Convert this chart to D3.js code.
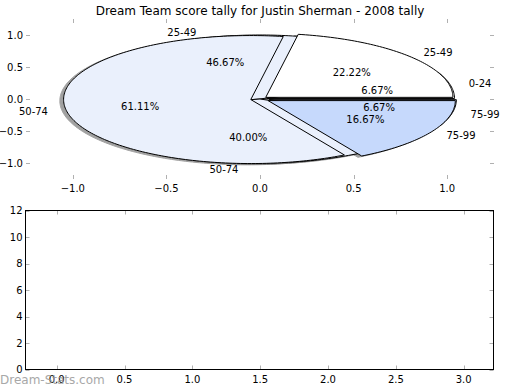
<!DOCTYPE html>
<html>
<head>
<meta charset="utf-8">
<script src="https://cdn.jsdelivr.net/npm/d3@7"></script>
<style>
  body { margin: 0; background: #fff; }
  text { font-family: "DejaVu Sans", sans-serif; }
</style>
</head>
<body>
<svg id="chart" width="520" height="390"></svg>
<script>
// outer pie: 2008 tally counts per score band
const outerLabels = ['0-24', '25-49', '50-74', '75-99'];
const outerCounts = [1, 7, 6, 1];
const outerExplode = [0.04, 0, 0, 0.05];
const outerColors = ['#ffffff', '#eaf0fc', '#eaf0fc', '#c6d9fc'];

// second pie drawn on top
const innerLabels = ['25-49', '50-74', '75-99'];
const innerCounts = [4, 11, 3];
const innerExplode = [0.04, 0.05, 0.05];
const innerColors = ['#ffffff', '#eaf0fc', '#c6d9fc'];

const pieTicks = [-1.0, -0.5, 0.0, 0.5, 1.0];
const barXTicks = [0.0, 0.5, 1.0, 1.5, 2.0, 2.5, 3.0];
const barYTicks = [0, 2, 4, 6, 8, 10, 12];

const svg = d3.select('#chart');
const fmt = d3.format('.1f');

svg.append('text')
  .attr('x', 260).attr('y', 15)
  .attr('text-anchor', 'middle')
  .attr('font-size', 12)
  .text('Dream Team score tally for Justin Sherman - 2008 tally');

// ---- top axes (pie) ----
const x = d3.scaleLinear().domain([-1.25, 1.25]).range([26, 494]);
const y = d3.scaleLinear().domain([-1.25, 1.25]).range([179, 19]);

const line = d3.line().x(d => x(d[0])).y(d => y(d[1]));

function wedgePoints(cx, cy, a0, a1, r) {
  const pts = [[cx, cy]];
  const n = Math.max(2, Math.ceil((a1 - a0) / 0.02));
  for (let i = 0; i <= n; i++) {
    const t = a0 + (a1 - a0) * i / n;
    pts.push([cx + r * Math.cos(t), cy + r * Math.sin(t)]);
  }
  pts.push([cx, cy]);
  return pts;
}

const pie = d3.pie().sort(null).startAngle(0).endAngle(2 * Math.PI);

function buildPie(labels, counts, explode, colors) {
  const total = d3.sum(counts);
  return pie(counts).map((a, i) => {
    const mid = (a.startAngle + a.endAngle) / 2;
    const cx = explode[i] * Math.cos(mid);
    const cy = explode[i] * Math.sin(mid);
    return {
      label: labels[i], pct: (100 * counts[i] / total).toFixed(2) + '%',
      a0: a.startAngle, a1: a.endAngle, mid: mid, cx: cx, cy: cy, color: colors[i]
    };
  });
}

const outer = buildPie(outerLabels, outerCounts, outerExplode, outerColors);
const inner = buildPie(innerLabels, innerCounts, innerExplode, innerColors);
const wedges = outer.concat(inner);

// shadows first, under every wedge
svg.append('g').selectAll('path')
  .data(wedges)
  .enter()
  .append('path')
  .attr('d', d => line(wedgePoints(d.cx - 0.02, d.cy - 0.02, d.a0, d.a1, 1)))
  .attr('fill', 'rgb(70,70,70)')
  .attr('stroke', 'rgb(70,70,70)')
  .attr('opacity', 0.5);

svg.append('g').selectAll('path')
  .data(wedges)
  .enter()
  .append('path')
  .attr('d', d => line(wedgePoints(d.cx, d.cy, d.a0, d.a1, 1)))
  .attr('fill', d => d.color)
  .attr('stroke', '#000')
  .attr('stroke-width', 1)
  .attr('stroke-linejoin', 'round');

const labelG = svg.append('g').attr('font-size', 10);
wedges.forEach(d => {
  const lx = d.cx + 1.1 * Math.cos(d.mid);
  const ly = d.cy + 1.1 * Math.sin(d.mid);
  labelG.append('text')
    .attr('x', x(lx)).attr('y', y(ly))
    .attr('dy', '0.35em')
    .attr('text-anchor', lx > 0 ? 'start' : 'end')
    .text(d.label);
  labelG.append('text')
    .attr('x', x(d.cx + 0.6 * Math.cos(d.mid))).attr('y', y(d.cy + 0.6 * Math.sin(d.mid)))
    .attr('dy', '0.35em')
    .attr('text-anchor', 'middle')
    .text(d.pct);
});

// tick marks + labels, drawn inward on all four sides
function ticks(g, xs, ys, xScale, yScale, box, xFmt, yFmt) {
  const tk = g.append('g').attr('stroke', '#b0b0b0').attr('stroke-width', 1);
  xs.forEach(v => {
    const px = Math.round(xScale(v)) + 0.5;
    tk.append('line').attr('x1', px).attr('x2', px).attr('y1', box.bottom).attr('y2', box.bottom - 4);
    tk.append('line').attr('x1', px).attr('x2', px).attr('y1', box.top).attr('y2', box.top + 4);
    g.append('text').attr('x', xScale(v)).attr('y', box.bottom + 13)
      .attr('text-anchor', 'middle').attr('font-size', 10).text(xFmt(v));
  });
  ys.forEach(v => {
    const py = Math.round(yScale(v)) + 0.5;
    tk.append('line').attr('y1', py).attr('y2', py).attr('x1', box.left).attr('x2', box.left + 4);
    tk.append('line').attr('y1', py).attr('y2', py).attr('x1', box.right).attr('x2', box.right - 4);
    g.append('text').attr('x', box.left - 3).attr('y', yScale(v)).attr('dy', '0.35em')
      .attr('text-anchor', 'end').attr('font-size', 10).text(yFmt(v));
  });
}

ticks(svg.append('g'), pieTicks, pieTicks, x, y,
  {left: 26, right: 494, top: 19, bottom: 179}, fmt, fmt);

// ---- bottom axes (empty) ----
const box2 = {left: 25.5, right: 493.5, top: 210.5, bottom: 369.5};
const x2 = d3.scaleLinear().domain([-0.23, 3.22]).range([box2.left, box2.right]);
const y2 = d3.scaleLinear().domain([0, 12]).range([box2.bottom, box2.top]);

const g2 = svg.append('g');
ticks(g2, barXTicks, barYTicks, x2, y2, box2, fmt, d3.format('d'));
g2.append('rect')
  .attr('x', box2.left).attr('y', box2.top)
  .attr('width', box2.right - box2.left).attr('height', box2.bottom - box2.top)
  .attr('fill', 'none').attr('stroke', '#000').attr('stroke-width', 1);

// watermark
svg.append('text')
  .attr('x', 0).attr('y', 384)
  .attr('font-size', 12)
  .attr('fill', '#999')
  .attr('opacity', 0.85)
  .text('Dream-Stats.com');
</script>
</body>
</html>
